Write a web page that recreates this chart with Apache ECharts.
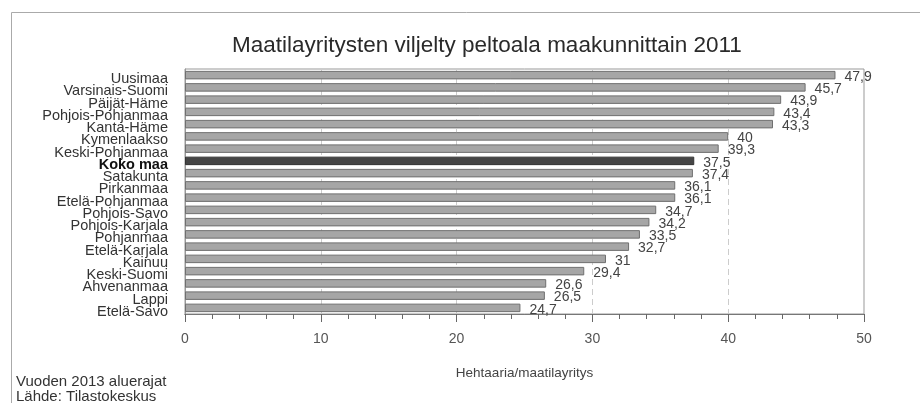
<!DOCTYPE html>
<html>
<head>
<meta charset="utf-8">
<script src="https://cdn.jsdelivr.net/npm/echarts@6/dist/echarts.min.js"></script>
<style>
  html, body { margin: 0; padding: 0; background: #fff; }
  #main { width: 920px; height: 403px; }
</style>
</head>
<body>
<div id="main"></div>
<script>
const regions = ["Uusimaa", "Varsinais-Suomi", "Päijät-Häme", "Pohjois-Pohjanmaa", "Kanta-Häme",
  "Kymenlaakso", "Keski-Pohjanmaa", "Koko maa", "Satakunta", "Pirkanmaa", "Etelä-Pohjanmaa",
  "Pohjois-Savo", "Pohjois-Karjala", "Pohjanmaa", "Etelä-Karjala", "Kainuu", "Keski-Suomi",
  "Ahvenanmaa", "Lappi", "Etelä-Savo"]
const hectares = [47.9, 45.7, 43.9, 43.4, 43.3, 40, 39.3, 37.5, 37.4, 36.1, 36.1,
  34.7, 34.2, 33.5, 32.7, 31, 29.4, 26.6, 26.5, 24.7]
const totalName = "Koko maa"

const chart = echarts.init(document.getElementById('main'), null, { renderer: 'canvas' })
const font = "'Liberation Sans', Arial, sans-serif"

var option = {
  animation: false,
  backgroundColor: '#fff',
  title: {
    text: "Maatilayritysten viljelty peltoala maakunnittain 2011",
    left: 232,
    top: 34,
    padding: 0,
    textStyle: { fontFamily: font, fontSize: 22.5, fontWeight: 'normal', color: '#2a2a2a' }
  },
  graphic: [
    { type: 'rect', shape: { x: 11.5, y: 12.5, width: 930, height: 420 },
      style: { fill: 'none', stroke: '#aaa', lineWidth: 1 }, silent: true },
    { type: 'text', left: 16, top: 374,
      style: { text: "Vuoden 2013 aluerajat", font: "15px " + font, fill: '#333' } },
    { type: 'text', left: 16, top: 389,
      style: { text: "Lähde: Tilastokeskus", font: "15px " + font, fill: '#333' } }
  ],
  grid: {
    left: 185, right: 56, top: 69, bottom: 89,
    show: true, borderColor: '#999', borderWidth: 1, backgroundColor: 'transparent'
  },
  xAxis: [{
    type: 'value',
    min: 0, max: 50, interval: 10,
    name: "Hehtaaria/maatilayritys",
    nameLocation: 'middle',
    nameGap: 52,
    nameTextStyle: { fontFamily: font, fontSize: 13.5, color: '#444' },
    axisLine: { show: true, lineStyle: { color: '#777' } },
    axisTick: { show: true, inside: false, length: 8, lineStyle: { color: '#666', width: 1 } },
    axisLabel: { fontFamily: font, fontSize: 14, color: '#555', margin: 18 },
    splitLine: { show: true, lineStyle: { color: '#ccc', type: [6, 4] } }
  }, {
    // minor ticks every 2 units
    type: 'value',
    position: 'bottom',
    min: 0, max: 50, interval: 2,
    axisLine: { show: true, lineStyle: { color: '#777' } },
    axisTick: { show: true, inside: false, length: 5, lineStyle: { color: '#666', width: 1 } },
    axisLabel: { show: false },
    splitLine: { show: false }
  }],
  yAxis: {
    type: 'category',
    inverse: true,
    data: regions,
    axisLine: { show: true, lineStyle: { color: '#999' } },
    axisTick: { show: false },
    axisLabel: {
      margin: 17,
      interval: 0,
      fontFamily: font,
      fontSize: 14.5,
      color: '#333',
      padding: [8, 0, 0, 0],
      formatter: function (v) { return v === totalName ? '{b|' + v + '}' : v },
      rich: { b: { fontFamily: font, fontSize: 14.5, fontWeight: 'bold', color: '#111' } }
    }
  },
  series: [{
    type: 'bar',
    xAxisIndex: 0,
    barWidth: 8.5,
    data: hectares.map(function (v, i) {
      var total = regions[i] === totalName
      return {
        value: v,
        itemStyle: {
          color: total ? '#454545' : '#a6a6a6',
          borderColor: total ? '#333' : '#6f6f6f',
          borderWidth: 1
        }
      }
    }),
    label: {
      show: true,
      position: 'right',
      distance: 9,
      fontFamily: font,
      fontSize: 14,
      color: '#444',
      offset: [0, 2],
      formatter: function (p) { return String(p.value).replace('.', ',') }
    }
  }]
}
chart.setOption(option)
</script>
</body>
</html>
